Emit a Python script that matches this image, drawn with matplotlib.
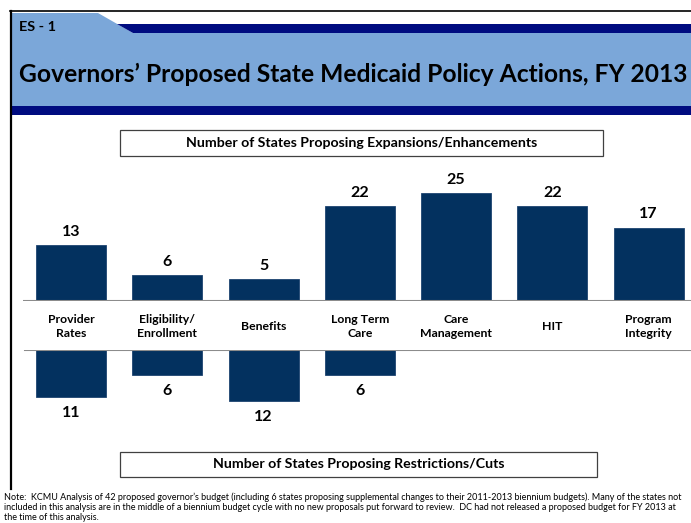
import matplotlib
matplotlib.use("Agg")
import matplotlib.pyplot as plt
from matplotlib.patches import Rectangle, Polygon
import numpy as np

# ---------------- data ----------------
categories = ["Provider\nRates", "Eligibility/\nEnrollment", "Benefits", "Long Term\nCare",
              "Care\nManagement", "HIT", "Program\nIntegrity"]
expansions = [13, 6, 5, 22, 25, 22, 17]
restrictions = [11, 6, 12, 6, None, None, None]

slide_tag = "ES - 1"
title = "Governors\u2019 Proposed State Medicaid Policy Actions, FY 2013"
top_box_label = "Number of States Proposing Expansions/Enhancements"
bottom_box_label = "Number of States Proposing Restrictions/Cuts"
note_lines = [
    "Note:  KCMU Analysis of 42 proposed governor\u2019s budget (including 6 states proposing supplemental changes to their 2011-2013 biennium budgets). Many of the states not",
    "included in this analysis are in the middle of a biennium budget cycle with no new proposals put forward to review.  DC had not released a proposed budget for FY 2013 at",
    "the time of this analysis.",
]

# ---------------- style ----------------
W, H = 691, 523
FONT = "Lato"
BAR = "#03315f"
LIGHT = "#7ba7d9"
NAVY = "#000c80"
plt.rcParams["font.family"] = [FONT, "DejaVu Sans"]

fig = plt.figure(figsize=(W / 100, H / 100), dpi=100)
fig.patch.set_facecolor("white")
renderer = fig.canvas.get_renderer()


def fx(x):
    return x / W


def fy(y):
    return 1 - y / H


def rect(x0, y0, x1, y1, **kw):
    fig.add_artist(Rectangle((fx(x0), fy(y1)), fx(x1) - fx(x0), fy(y0) - fy(y1),
                             transform=fig.transFigure, **kw))


def text_width(t):
    return t.get_window_extent(renderer=renderer).width


def fit(t, width):
    t.set_fontsize(t.get_fontsize() * width / text_width(t))
    return t.get_fontsize()


# ---------------- header ----------------
rect(12, 33, W, 106, facecolor=LIGHT, edgecolor="none")
fig.add_artist(Polygon([(fx(12), fy(13)), (fx(98), fy(13)), (fx(133), fy(33)), (fx(12), fy(33))],
                       closed=True, transform=fig.transFigure, facecolor=LIGHT, edgecolor="none"))
fig.add_artist(Polygon([(fx(117), fy(24)), (fx(W), fy(24)), (fx(W), fy(33)), (fx(133), fy(33))],
                       closed=True, transform=fig.transFigure, facecolor=NAVY, edgecolor="none"))
rect(12, 106, W, 115, facecolor=NAVY, edgecolor="none")
# slide border
fig.add_artist(plt.Line2D([fx(10), fx(W)], [fy(11), fy(11)], transform=fig.transFigure,
                          color="black", lw=1.2))
fig.add_artist(plt.Line2D([fx(11), fx(11)], [fy(11), fy(489)], transform=fig.transFigure,
                          color="black", lw=1.6))

t = fig.text(fx(19), fy(27), slide_tag, fontsize=9, fontweight="bold", ha="left", va="center")
fit(t, 37)
t = fig.text(fx(19), fy(74), title, fontsize=17, fontweight="bold", ha="left", va="center")
fit(t, 669)

# ---------------- chart axes ----------------
c0, step = 71.0, 96.25           # px centre of first bar, px per category
x_left, x_right = 23, W
xlim = ((x_left - c0) / step, (x_right - c0) / step)
bar_w = 70 / step
xs = np.arange(len(categories))
VAL_FS = 11.5

# upper axes (expansions)
up_top, up_base, up_scale = 160, 301, 4.32
ax1 = fig.add_axes([fx(x_left), fy(up_base), fx(x_right) - fx(x_left), fy(up_top) - fy(up_base)])
ax1.bar(xs, expansions, width=bar_w, color=BAR, edgecolor="#1d4470", linewidth=0.6, zorder=2)
ax1.set_xlim(*xlim)
ax1.set_ylim(0, (up_base - up_top) / up_scale)
ax1.axhline(0, color="#8c8c8c", lw=1.5, zorder=3)
for x, v in zip(xs, expansions):
    ax1.annotate(str(v), (x, v), xytext=(0, 9.5), textcoords="offset points",
                 ha="center", va="center", fontsize=VAL_FS, fontweight="bold", color="black")
ax1.axis("off")

# lower axes (restrictions)
lo_top, lo_bot, lo_scale = 350, 440, 4.23
ax2 = fig.add_axes([fx(x_left), fy(lo_bot), fx(x_right) - fx(x_left), fy(lo_top) - fy(lo_bot)])
r_x = [x for x, v in zip(xs, restrictions) if v is not None]
r_v = [v for v in restrictions if v is not None]
ax2.bar(r_x, r_v, width=bar_w, color=BAR, edgecolor="#1d4470", linewidth=0.6, zorder=2)
ax2.set_xlim(*xlim)
ax2.set_ylim((lo_bot - lo_top) / lo_scale, 0)
ax2.axhline(0, xmin=(25 - x_left) / (x_right - x_left), color="#8c8c8c", lw=1.5, zorder=3)
for x, v in zip(r_x, r_v):
    ax2.annotate(str(v), (x, v), xytext=(0, -11.5), textcoords="offset points",
                 ha="center", va="center", fontsize=VAL_FS, fontweight="bold", color="black")
ax2.axis("off")

# category labels between the two axes
probe = fig.text(0, 0, "Management", fontsize=9, fontweight="bold")
cat_fs = fit(probe, 72)
probe.remove()
for x, lab in zip(xs, categories):
    px = c0 + step * x
    fig.text(fx(px), fy(326.5), lab, ha="center", va="center", fontsize=cat_fs,
             fontweight="bold", linespacing=1.42)

# ---------------- boxed labels ----------------
rect(120, 130, 603, 156, facecolor="white", edgecolor="#404040", lw=0.9)
t = fig.text(fx(361.5), fy(143), top_box_label, ha="center", va="center", fontsize=9, fontweight="bold")
fit(t, 352)
rect(120, 452, 597, 477, facecolor="white", edgecolor="#404040", lw=0.9)
t = fig.text(fx(358.5), fy(464.5), bottom_box_label, ha="center", va="center", fontsize=9, fontweight="bold")
fit(t, 292)

# ---------------- note ----------------
note_y = [497, 507, 517]
for i, (line, y) in enumerate(zip(note_lines, note_y)):
    t = fig.text(fx(4), fy(y), line, ha="left", va="center", fontsize=6, color="black")
    if i == 0:
        nfs = fit(t, 683)
    else:
        t.set_fontsize(nfs)

fig.savefig("out.png", dpi=100, facecolor="white")
